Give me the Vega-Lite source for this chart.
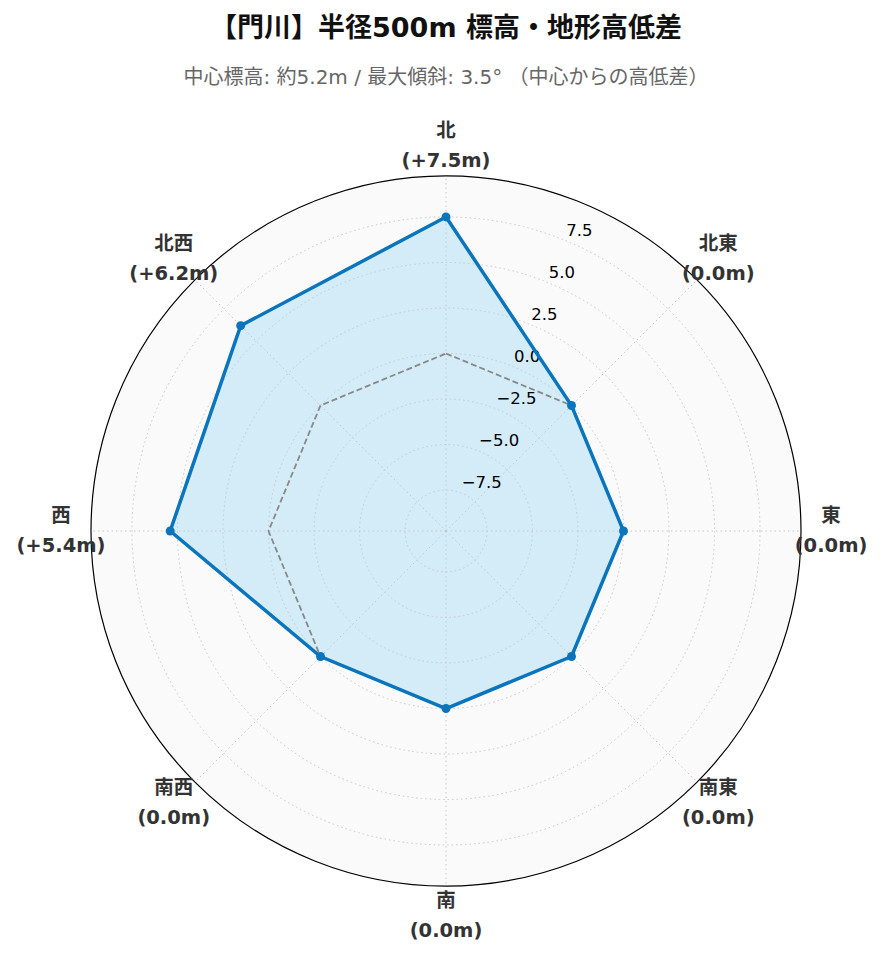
{
  "$schema": "https://vega.github.io/schema/vega-lite/v6.json",
  "autosize": "none",
  "width": 710,
  "height": 710,
  "padding": {"left": 91, "top": 176, "right": 83, "bottom": 76},
  "background": "white",
  "config": {"view": {"stroke": null}, "font": "DejaVu Sans, Noto Sans CJK JP"},
  "title": {
    "text": "【門川】半径500m 標高・地形高低差",
    "subtitle": "中心標高: 約5.2m / 最大傾斜: 3.5° （中心からの高低差）",
    "anchor": "middle",
    "frame": "group",
    "offset": 32,
    "font": "DejaVu Sans, Noto Sans CJK JP",
    "fontSize": 27,
    "fontWeight": "bold",
    "color": "#111111",
    "subtitleFont": "DejaVu Sans, Noto Sans CJK JP",
    "subtitleFontSize": 20,
    "subtitleColor": "#666666",
    "subtitlePadding": 25
  },
  "datasets": {
    "dirs": [
      {"dir": "北", "bearing": 0, "value": 7.5, "label": "北\n(+7.5m)"},
      {"dir": "北東", "bearing": 45, "value": 0.0, "label": "北東\n(0.0m)"},
      {"dir": "東", "bearing": 90, "value": 0.0, "label": "東\n(0.0m)"},
      {"dir": "南東", "bearing": 135, "value": 0.0, "label": "南東\n(0.0m)"},
      {"dir": "南", "bearing": 180, "value": 0.0, "label": "南\n(0.0m)"},
      {"dir": "南西", "bearing": 225, "value": 0.0, "label": "南西\n(0.0m)"},
      {"dir": "西", "bearing": 270, "value": 5.4, "label": "西\n(+5.4m)"},
      {"dir": "北西", "bearing": 315, "value": 6.2, "label": "北西\n(+6.2m)"}
    ],
    "rings": [
      {"r": -7.5, "text": "−7.5"},
      {"r": -5.0, "text": "−5.0"},
      {"r": -2.5, "text": "−2.5"},
      {"r": 0.0, "text": "0.0"},
      {"r": 2.5, "text": "2.5"},
      {"r": 5.0, "text": "5.0"},
      {"r": 7.5, "text": "7.5"}
    ],
    "outer": [{"r": 9.75}]
  },
  "layer": [
    {
      "data": {"name": "outer"},
      "transform": [
        {"calculate": "0", "as": "o"},
        {"calculate": "datum.r + 9.75", "as": "R"}
      ],
      "mark": {"type": "point", "shape": "circle", "filled": true, "fill": "#fafafa", "opacity": 1, "strokeWidth": 0},
      "encoding": {
        "x": {"field": "o", "type": "quantitative", "scale": {"domain": [-19.5, 19.5], "nice": false, "zero": false}, "axis": null},
        "y": {"field": "o", "type": "quantitative", "scale": {"domain": [-19.5, 19.5], "nice": false, "zero": false}, "axis": null},
        "size": {"field": "R", "type": "quantitative", "scale": {"type": "pow", "exponent": 2, "domain": [0, 19.5], "range": [0, 504100], "zero": true, "nice": false}, "legend": null}
      }
    },
    {
      "data": {"name": "dirs"},
      "transform": [
        {"calculate": "(datum.value + 9.75) * sin(datum.bearing * PI / 180)", "as": "px"},
        {"calculate": "(datum.value + 9.75) * cos(datum.bearing * PI / 180)", "as": "py"}
      ],
      "mark": {"type": "line", "interpolate": "linear-closed", "fill": "#d3ecf8", "strokeWidth": 0},
      "encoding": {
        "x": {"field": "px", "type": "quantitative"},
        "y": {"field": "py", "type": "quantitative"},
        "order": {"field": "bearing", "type": "quantitative"}
      }
    },
    {
      "data": {"name": "rings"},
      "transform": [
        {"calculate": "0", "as": "o"},
        {"calculate": "datum.r + 9.75", "as": "R"}
      ],
      "mark": {"type": "point", "shape": "circle", "filled": false, "fill": null, "stroke": "#c8c8c8", "opacity": 1, "strokeWidth": 1, "strokeDash": [1.5, 3]},
      "encoding": {
        "x": {"field": "o", "type": "quantitative"},
        "y": {"field": "o", "type": "quantitative"},
        "size": {"field": "R", "type": "quantitative", "legend": null}
      }
    },
    {
      "data": {"name": "dirs"},
      "transform": [
        {"calculate": "0", "as": "o"},
        {"calculate": "19.5 * sin(datum.bearing * PI / 180)", "as": "ex"},
        {"calculate": "19.5 * cos(datum.bearing * PI / 180)", "as": "ey"}
      ],
      "mark": {"type": "rule", "stroke": "#c8c8c8", "strokeWidth": 1, "strokeDash": [1.5, 3]},
      "encoding": {
        "x": {"field": "o", "type": "quantitative"},
        "y": {"field": "o", "type": "quantitative"},
        "x2": {"field": "ex"},
        "y2": {"field": "ey"}
      }
    },
    {
      "data": {"name": "outer"},
      "transform": [
        {"calculate": "0", "as": "o"},
        {"calculate": "datum.r + 9.75", "as": "R"}
      ],
      "mark": {"type": "point", "shape": "circle", "filled": false, "fill": null, "stroke": "#000000", "opacity": 1, "strokeWidth": 1.2},
      "encoding": {
        "x": {"field": "o", "type": "quantitative"},
        "y": {"field": "o", "type": "quantitative"},
        "size": {"field": "R", "type": "quantitative", "legend": null}
      }
    },
    {
      "data": {"name": "dirs"},
      "transform": [
        {"calculate": "9.75 * sin(datum.bearing * PI / 180)", "as": "zx"},
        {"calculate": "9.75 * cos(datum.bearing * PI / 180)", "as": "zy"}
      ],
      "mark": {"type": "line", "interpolate": "linear-closed", "stroke": "#888888", "strokeWidth": 1.8, "strokeDash": [6, 3]},
      "encoding": {
        "x": {"field": "zx", "type": "quantitative"},
        "y": {"field": "zy", "type": "quantitative"},
        "order": {"field": "bearing", "type": "quantitative"}
      }
    },
    {
      "data": {"name": "rings"},
      "transform": [
        {"calculate": "(datum.r + 9.75) * sin(22.5 * PI / 180)", "as": "tx"},
        {"calculate": "(datum.r + 9.75) * cos(22.5 * PI / 180)", "as": "ty"}
      ],
      "mark": {"type": "text", "align": "left", "baseline": "alphabetic", "dy": -5, "fontSize": 16.5, "color": "#000000", "font": "DejaVu Sans"},
      "encoding": {
        "x": {"field": "tx", "type": "quantitative"},
        "y": {"field": "ty", "type": "quantitative"},
        "text": {"field": "text"}
      }
    },
    {
      "data": {"name": "dirs"},
      "transform": [
        {"calculate": "(datum.value + 9.75) * sin(datum.bearing * PI / 180)", "as": "px"},
        {"calculate": "(datum.value + 9.75) * cos(datum.bearing * PI / 180)", "as": "py"}
      ],
      "mark": {"type": "line", "interpolate": "linear-closed", "stroke": "#0a75bc", "strokeWidth": 3.5},
      "encoding": {
        "x": {"field": "px", "type": "quantitative"},
        "y": {"field": "py", "type": "quantitative"},
        "order": {"field": "bearing", "type": "quantitative"}
      }
    },
    {
      "data": {"name": "dirs"},
      "transform": [
        {"calculate": "(datum.value + 9.75) * sin(datum.bearing * PI / 180)", "as": "px"},
        {"calculate": "(datum.value + 9.75) * cos(datum.bearing * PI / 180)", "as": "py"}
      ],
      "mark": {"type": "circle", "size": 80, "color": "#0a75bc", "opacity": 1},
      "encoding": {
        "x": {"field": "px", "type": "quantitative"},
        "y": {"field": "py", "type": "quantitative"}
      }
    },
    {
      "data": {"name": "dirs"},
      "transform": [
        {"calculate": "21.15 * sin(datum.bearing * PI / 180)", "as": "lx"},
        {"calculate": "21.15 * cos(datum.bearing * PI / 180)", "as": "ly"}
      ],
      "mark": {"type": "text", "align": "center", "baseline": "middle", "dy": -15, "lineBreak": "\n", "lineHeight": 30, "fontSize": 19.5, "fontWeight": "bold", "color": "#333333", "font": "DejaVu Sans, Noto Sans CJK JP"},
      "encoding": {
        "x": {"field": "lx", "type": "quantitative"},
        "y": {"field": "ly", "type": "quantitative"},
        "text": {"field": "label"}
      }
    }
  ]
}
